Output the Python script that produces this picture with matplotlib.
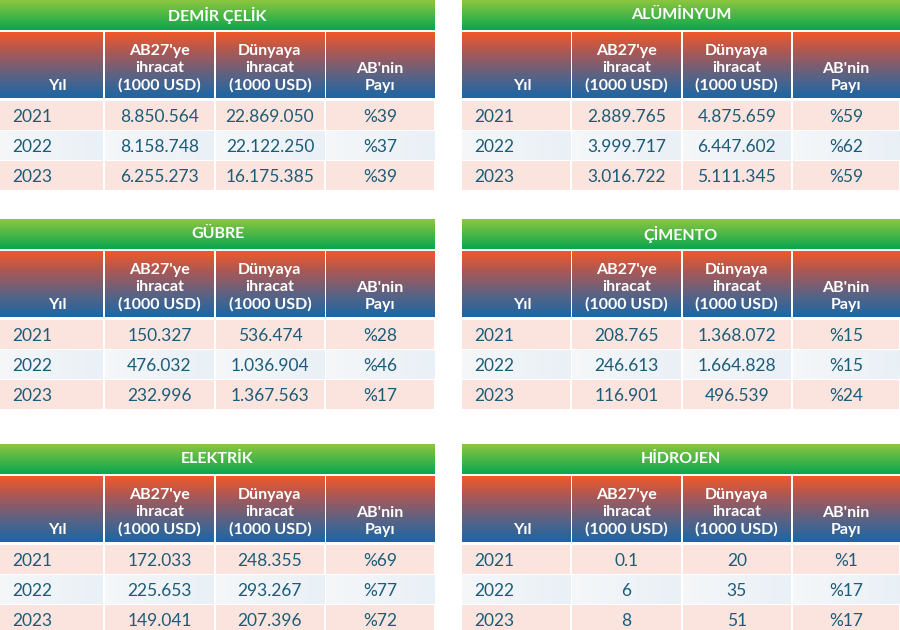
import numpy as np
import matplotlib.pyplot as plt
from matplotlib.colors import LinearSegmentedColormap

# tablolar
titles = ["DEMİR ÇELİK", "ALÜMİNYUM", "GÜBRE", "ÇİMENTO", "ELEKTRİK", "HİDROJEN"]
years = ["2021", "2022", "2023"]
ab27 = [["8.850.564", "8.158.748", "6.255.273"],
        ["2.889.765", "3.999.717", "3.016.722"],
        ["150.327", "476.032", "232.996"],
        ["208.765", "246.613", "116.901"],
        ["172.033", "225.653", "149.041"],
        ["0.1", "6", "8"]]
dunya = [["22.869.050", "22.122.250", "16.175.385"],
         ["4.875.659", "6.447.602", "5.111.345"],
         ["536.474", "1.036.904", "1.367.563"],
         ["1.368.072", "1.664.828", "496.539"],
         ["248.355", "293.267", "207.396"],
         ["20", "35", "51"]]
pay = [["%39", "%37", "%39"],
       ["%59", "%62", "%59"],
       ["%28", "%46", "%17"],
       ["%15", "%15", "%24"],
       ["%69", "%77", "%72"],
       ["%1", "%17", "%17"]]
headers = ["Yıl", "AB27'ye\nihracat\n(1000 USD)", "Dünyaya\nihracat\n(1000 USD)", "AB'nin\nPayı"]

green = LinearSegmentedColormap.from_list("g", ["#8dc63f", "#0aa64f"])
hdr = LinearSegmentedColormap.from_list("h", ["#f0582a", "#a2595a", "#5a6384", "#1c66a4"])
row2 = LinearSegmentedColormap.from_list("r", ["#f5f7f9", "#e9f0f6"])
txtc = "#1b5c78"

fig = plt.figure(figsize=(9, 6.3), dpi=100)
ax = fig.add_axes([0, 0, 1, 1])
ax.set_xlim(0, 900)
ax.set_ylim(630, 0)
ax.axis("off")

def grad(x0, x1, y0, y1, cmap, horiz=False):
    g = np.linspace(0, 1, 100)
    img = g[None, :] if horiz else g[:, None]
    ax.imshow(img, cmap=cmap, extent=[x0, x1, y1, y0], aspect="auto", interpolation="bilinear")

lefts = [0, 462]
widths = [435, 438]
tops = [0, 219, 444]
colfracs = [[0, 0.239, 0.494, 0.747, 1.0], [0, 0.249, 0.502, 0.753, 1.0]]

for k in range(6):
    x0 = lefts[k % 2]
    w = widths[k % 2]
    y = tops[k // 2]
    grad(x0, x0 + w, y, y + 30, green)
    ax.text(x0 + w / 2, y + 15, titles[k], color="white", fontsize=11.5, fontweight="bold",
            family="Lato", ha="center", va="center")
    cx = [x0 + f * w for f in colfracs[k % 2]]
    hy0, hy1 = y + 32, y + 98
    for c in range(4):
        a = cx[c] + (1 if c > 0 else 0)
        b = cx[c + 1] - 1
        grad(a, b, hy0, hy1, hdr)
        mid = (a + b) / 2
        xt = mid + 6 if c == 0 else mid
        ax.text(xt, hy1 - 5, headers[c], color="white", fontsize=11.5, fontweight="bold",
                family="Lato", ha="center", va="bottom", linespacing=1.3)
    vals = [years, ab27[k], dunya[k], pay[k]]
    for r in range(3):
        ry0 = y + 101 + r * 30
        ry1 = ry0 + 29
        for c in range(4):
            a = cx[c] + (1 if c > 0 else 0)
            b = cx[c + 1] - 1
            if r == 1:
                grad(a, b, ry0, ry1, row2, horiz=True)
            else:
                ax.add_patch(plt.Rectangle((a, ry0), b - a, ry1 - ry0, color="#fce4de", lw=0))
            ym = (ry0 + ry1) / 2 + 1.5
            if c == 0:
                ax.text(a + 12, ym, vals[c][r], color=txtc, fontsize=12.5,
                        family="Lato", ha="left", va="center")
            else:
                ax.text((a + b) / 2, ym, vals[c][r], color=txtc, fontsize=12.5,
                        family="Lato", ha="center", va="center")

plt.savefig("out.png", dpi=100)
